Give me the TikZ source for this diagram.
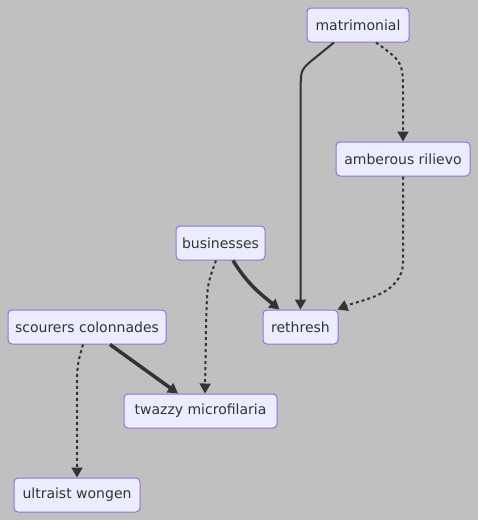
\documentclass[tikz,border=0pt]{standalone}
\usepackage{fontspec}
\setmainfont{DejaVu Sans}
\usetikzlibrary{arrows.meta}
\definecolor{bg}{HTML}{C0C0C0}
\definecolor{nodefill}{HTML}{ECECFF}
\definecolor{nodeborder}{HTML}{9370DB}
\definecolor{edgecol}{HTML}{333333}
\tikzset{
  box/.style={draw=nodeborder, fill=nodefill, line width=1pt, rounded corners=4pt,
    minimum height=34pt, inner sep=0pt, font=\fontsize{14}{16}\selectfont, text=edgecol},
  solidedge/.style={draw=edgecol, line width=2pt, -{Triangle[length=10pt,width=11pt]}},
  thickedge/.style={draw=edgecol, line width=3.5pt, -{Triangle[length=10pt,width=11pt]}},
  dotedge/.style={draw=edgecol, line width=2pt, dash pattern=on 3pt off 3pt, -{Triangle[length=10pt,width=11pt]}},
}
\begin{document}
\begin{tikzpicture}[x=1pt,y=-1pt]
\fill[bg] (0,0) rectangle (478,520);
\useasboundingbox (0,0) rectangle (478,520);
\node[box, minimum width=102pt] (mat) at (358,25) {matrimonial};
\node[box, minimum width=134pt] (amb) at (403,159) {amberous rilievo};
\node[box, minimum width=89pt] (bus) at (220.5,243) {businesses};
\node[box, minimum width=75pt] (ret) at (300.5,327) {rethresh};
\node[box, minimum width=158pt] (sco) at (87,327) {scourers colonnades};
\node[box, minimum width=153pt] (twa) at (200.5,411) {twazzy microfilaria};
\node[box, minimum width=126pt] (ult) at (77,495) {ultraist wongen};
% edges
\draw[solidedge] ([xshift=-24pt]mat.south) -- (310,62) .. controls (301,70) .. (300.5,90) -- (ret.north);
\draw[dotedge] ([xshift=18pt]mat.south) .. controls (403,62) .. (403,95) -- (amb.north);
\draw[dotedge] (amb.south) -- (403,262) .. controls (403,295) and (360,300) .. ([xshift=-1pt]ret.north east);
\draw[thickedge] ([xshift=12.5pt]bus.south) .. controls (248,285) and (262,295) .. ([xshift=-21pt]ret.north);
\draw[dotedge] ([xshift=-4.5pt]bus.south) .. controls (207,285) .. (206,330) -- ([xshift=4.5pt]twa.north);
\draw[thickedge] ([xshift=23pt]sco.south) -- ([xshift=-22.5pt]twa.north);
\draw[dotedge] ([xshift=-4pt]sco.south) .. controls (77,365) .. (77,400) -- (ult.north);
\end{tikzpicture}
\end{document}
